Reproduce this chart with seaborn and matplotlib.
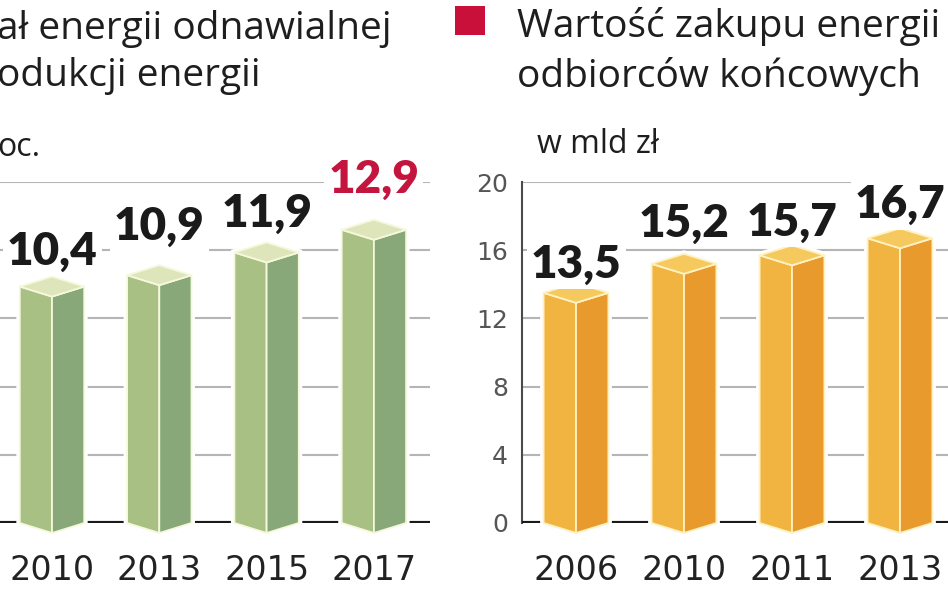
import numpy as np
import matplotlib.pyplot as plt
import seaborn as sns
from matplotlib.patches import Polygon, Rectangle

# Data
oze_years = ['2010', '2013', '2015', '2017']
oze_share = [10.4, 10.9, 11.9, 12.9]
oze_labels = ['10,4', '10,9', '11,9', '12,9']

buy_years = ['2006', '2010', '2011', '2013']
buy_value = [13.5, 15.2, 15.7, 16.7]
buy_labels = ['13,5', '15,2', '15,7', '16,7']

W, H = 948, 593
sns.set_style('white')
plt.rcParams['font.family'] = ['Open Sans', 'DejaVu Sans']

fig = plt.figure(figsize=(W / 100, H / 100), dpi=100)


def px_axes(x0, x1, y_top, y_bot):
    # axes placed in pixel coordinates (top-left origin)
    return fig.add_axes([x0 / W, 1 - y_bot / H, (x1 - x0) / W, (y_bot - y_top) / H])


def fig_text(x, y, s, **kw):
    fig.text(x / W, 1 - y / H, s, va='baseline', **kw)


def bars3d(ax, cats, vals, labels, ymax, xlim, colors, gap_px, hi=None):
    light, dark, top, edge = colors
    sns.barplot(x=cats, y=vals, color=light, width=0.6, saturation=1,
                ax=ax, zorder=3)
    ax.set_xlim(*xlim)
    ax.set_ylim(0, ymax)
    ppu = ax.bbox.height / ymax
    d = 10 / ppu
    for i, p in enumerate(list(ax.patches)):
        xl, w, h = p.get_x(), p.get_width(), p.get_height()
        xc, xr = xl + w / 2, xl + w
        outline = [(xl, 0), (xc, -d), (xr, 0), (xr, h), (xc, h + d), (xl, h)]
        ax.add_patch(Polygon(outline, closed=True, fc='white', ec='white',
                             lw=5, zorder=3.5, clip_on=False))
        faces = [
            ([(xl, 0), (xc, -d), (xc, h - d), (xl, h)], light),
            ([(xc, -d), (xr, 0), (xr, h), (xc, h - d)], dark),
            ([(xl, h), (xc, h - d), (xr, h), (xc, h + d)], top),
        ]
        for pts, c in faces:
            ax.add_patch(Polygon(pts, closed=True, fc=c, ec=edge, lw=1.3,
                                 zorder=4, clip_on=False, joinstyle='round'))
        col = '#c4153f' if i == hi else '#1a1a1a'
        ax.text(xc, h + d + gap_px[i] / ppu, labels[i], ha='center', va='baseline',
                fontsize=33, fontweight='heavy', family=['Lato', 'DejaVu Sans'],
                color=col, zorder=5, clip_on=False,
                bbox=dict(facecolor='white', edgecolor='none', pad=3))
    ax.axhline(0, color='#1a1a1a', lw=3, zorder=2)
    ax.grid(axis='y', color='#b5b5b5', lw=1.5)
    ax.set_axisbelow(True)
    ax.set_xlabel('')
    ax.set_ylabel('')
    ax.tick_params(axis='x', length=0, pad=22)
    for lab in ax.get_xticklabels():
        lab.set_family('DejaVu Sans')
        lab.set_fontsize(24)
        lab.set_color('#222222')


# Left panel: share of renewable energy
ax1 = px_axes(-60, 430, 182, 523)
x0 = -(52 + 60) / 107.3
ax1.set_yticks(np.arange(0, 16, 3))
bars3d(ax1, oze_years, oze_share, oze_labels, 15, (x0, x0 + 490 / 107.3),
       ('#a9c084', '#88a87a', '#dfe5bb', '#f6f8dc'), [12, 25, 16, 27], hi=3)
ax1.tick_params(axis='y', labelleft=False, length=0)
sns.despine(ax=ax1, left=True, bottom=True)

# Right panel: value of energy purchases
ax2 = px_axes(522, 948, 182, 523)
ax2.set_yticks(np.arange(0, 21, 4))
bars3d(ax2, buy_years, buy_value, buy_labels, 20, (-0.5, -0.5 + 426 / 108),
       ('#f2b440', '#e89a2c', '#f6c95e', '#fff2c2'), [5, 17, 10, 10])
ax2.tick_params(axis='y', length=0, pad=10, labelsize=18, labelcolor='#555555')
for lab in ax2.get_yticklabels():
    lab.set_family(['Liberation Sans Narrow', 'DejaVu Sans'])
sns.despine(ax=ax2, left=False, bottom=True)
ax2.spines['left'].set_color('#4a4a4a')
ax2.spines['left'].set_linewidth(1.5)
ax2.spines['left'].set_zorder(1)

# Titles
title_kw = dict(fontsize=28, color='#1e1e1e', fontweight='medium')
fig_text(-3, 39, 'ał energii odnawialnej', **title_kw)
fig_text(-3, 86, 'odukcji energii', **title_kw)
fig_text(-3, 156, 'oc.', fontsize=23, color='#1e1e1e')

fig.patches.append(Rectangle((455 / W, 1 - 35 / H), 30 / W, 29 / H,
                             transform=fig.transFigure, fc='#c8103a', ec='none'))
fig_text(517, 37, 'Wartość zakupu energii', **title_kw)
fig_text(517, 87, 'odbiorców końcowych', **title_kw)
fig_text(537, 153, 'w mld zł', fontsize=23, color='#1e1e1e')

fig.savefig('out.png', dpi=100)
